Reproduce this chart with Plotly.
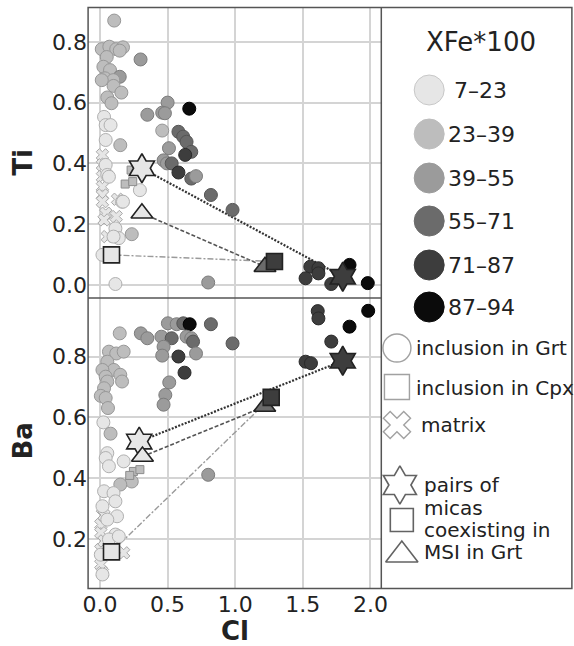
import plotly.graph_objects as go

W, H = 574, 646

# ---------------- data ----------------
CLASS_LABELS = ["7–23", "23–39", "39–55", "55–71", "71–87", "87–94"]
CLASS_FILL = ["#e6e6e6", "#bdbdbd", "#9b9b9b", "#6b6b6b", "#3d3d3d", "#0b0b0b"]
CLASS_EDGE = ["#b0b0b0", "#979797", "#7c7c7c", "#555555", "#2a2a2a", "#000000"]

# Ti panel – inclusions in Grt (circles): Cl, Ti, XFe class
ti_circ_cl = [0.105, 0.013, 0.069, 0.12, 0.17, 0.146, 0.30, 0.05, 0.025, 0.074, 0.146, 0.037, 0.098,
              0.013, 0.10, 0.158, 0.054, 0.085, 0.03, 0.042, 0.078, 0.042, 0.15, 0.50, 0.46, 0.48,
              0.35, 0.66, 0.46, 0.58, 0.615, 0.64, 0.675, 0.51, 0.63, 0.47, 0.495, 0.53, 0.58, 0.675,
              0.71, 0.82, 0.98, 0.80, 1.555, 1.615, 1.52, 1.615, 1.71, 1.845, 1.98, 0.042, 0.054,
              0.066, 0.295, 0.163, 0.114, 0.139, 0.10, 0.235, 0.114, 0.018, 0.17]
ti_circ_ti = [0.87, 0.776, 0.784, 0.776, 0.782, 0.771, 0.742, 0.75, 0.718, 0.707, 0.685, 0.68, 0.674,
              0.674, 0.655, 0.633, 0.617, 0.598, 0.553, 0.526, 0.526, 0.477, 0.46, 0.60, 0.567, 0.565,
              0.56, 0.58, 0.508, 0.504, 0.488, 0.471, 0.438, 0.45, 0.428, 0.41, 0.40, 0.40, 0.37, 0.35,
              0.358, 0.296, 0.247, 0.008, 0.06, 0.055, 0.022, 0.038, 0.003, 0.066, 0.006, 0.395, 0.362,
              0.356, 0.312, 0.274, 0.186, 0.154, 0.159, 0.167, 0.003, 0.099, 0.274]
ti_circ_grp = [1, 1, 1, 1, 1, 1, 2, 1, 1, 1, 2, 1, 1,
               1, 1, 1, 1, 1, 0, 0, 0, 0, 1, 2, 2, 2,
               2, 5, 1, 3, 3, 3, 3, 2, 4, 2, 2, 3, 4, 3,
               2, 3, 3, 2, 4, 4, 4, 4, 4, 5, 5, 0, 0,
               0, 0, 0, 0, 0, 0, 1, 0, 0, 0]

# Ti panel – matrix (crosses)
ti_mtx_cl = [0.018, 0.018, 0.018, 0.018, 0.018, 0.018, 0.042, 0.12, 0.03, 0.13, 0.054]
ti_mtx_ti = [0.428, 0.395, 0.356, 0.323, 0.296, 0.274, 0.236, 0.225, 0.214, 0.282, 0.159]

# Ti panel – inclusions in Cpx (small squares)
ti_cpx_cl = [0.23, 0.186, 0.242]
ti_cpx_ti = [0.378, 0.332, 0.34]

# Ti panel – pairs of micas coexisting in MSI in Grt: [light, dark]
ti_star_cl, ti_star_ti, ti_star_grp = [0.31, 1.795], [0.384, 0.027], [0, 4]
ti_sq_cl, ti_sq_ti, ti_sq_grp = [0.085, 1.29], [0.099, 0.077], [0, 4]
ti_tri_cl, ti_tri_ti, ti_tri_grp = [0.31, 1.22], [0.236, 0.06], [0, 3]

# Ba panel – inclusions in Grt (circles)
ba_circ_cl = [0.502, 0.567, 0.616, 0.663, 0.82, 0.146, 0.302, 0.35, 0.454, 0.53, 0.64, 0.675, 0.688,
              0.47, 0.46, 0.58, 0.71, 0.625, 0.98, 0.512, 0.483, 0.47, 0.80, 1.61, 1.615, 1.983, 1.845,
              1.71, 1.52, 1.56, 0.066, 0.12, 0.175, 0.054, 0.102, 0.018, 0.042, 0.15, 0.163, 0.054,
              0.03, 0.006, 0.042, 0.059, 0.025, 0.078, 0.054, 0.042, 0.066, 0.175, 0.235, 0.15, 0.03,
              0.10, 0.114, 0.018, 0.126, 0.054, 0.114, 0.066, 0.139, 0.018, 0.006]
ba_circ_ba = [0.909, 0.906, 0.909, 0.906, 0.906, 0.876, 0.876, 0.86, 0.865, 0.86, 0.865, 0.86, 0.849,
              0.832, 0.803, 0.80, 0.81, 0.747, 0.843, 0.715, 0.674, 0.642, 0.412, 0.949, 0.925, 0.95, 0.898,
              0.849, 0.783, 0.778, 0.816, 0.81, 0.816, 0.783, 0.756, 0.756, 0.734, 0.74, 0.718, 0.718,
              0.696, 0.671, 0.664, 0.631, 0.584, 0.547, 0.483, 0.467, 0.44, 0.456, 0.39, 0.38, 0.358,
              0.352, 0.325, 0.309, 0.276, 0.265, 0.216, 0.2, 0.21, 0.085, 0.15]
ba_circ_grp = [2, 2, 3, 5, 3, 1, 2, 2, 2, 3, 2, 2, 3,
               2, 2, 4, 2, 4, 3, 2, 2, 2, 2, 4, 4, 5, 5,
               4, 4, 4, 1, 1, 1, 1, 1, 1, 1, 1, 1, 1,
               1, 1, 1, 1, 0, 1, 0, 0, 0, 0, 1, 1, 0,
               0, 0, 0, 0, 0, 0, 0, 0, 0, 0]

# Ba panel – matrix (crosses)
ba_mtx_cl = [0.018, 0.006, 0.006, 0.006, 0.175, 0.006, 0.018, 0.03, 0.03]
ba_mtx_ba = [0.303, 0.249, 0.222, 0.167, 0.156, 0.118, 0.091, 0.195, 0.28]

# Ba panel – inclusions in Cpx (small squares)
ba_cpx_cl = [0.247, 0.295, 0.22]
ba_cpx_ba = [0.423, 0.429, 0.41]

# Ba panel – pairs
ba_star_cl, ba_star_ba, ba_star_grp = [0.29, 1.795], [0.521, 0.786], [0, 4]
ba_sq_cl, ba_sq_ba, ba_sq_grp = [0.085, 1.266], [0.159, 0.666], [0, 4]
ba_tri_cl, ba_tri_ba, ba_tri_grp = [0.314, 1.218], [0.472, 0.636], [0, 3]

X_TICKS = [0.0, 0.5, 1.0, 1.5, 2.0]
TI_TICKS = [0.0, 0.2, 0.4, 0.6, 0.8]
BA_TICKS = [0.2, 0.4, 0.6, 0.8]

# ---------------- layout helpers ----------------
def px(x):
    return x / W


def py(y):
    return 1 - y / H


PLOT_L, PLOT_R = 84, 384
TOP_T, MID, BOT_B = 7.5, 298, 588.5
FRAME = "#555555"
GRID = "#d4d4d4"
FONT = "DejaVu Sans"

fig = go.Figure()


def add_panel(xa, ya, cl, val, grp, mcl, mval, ccl, cval, pairs):
    # connecting lines of mica pairs
    styles = [("2px,1.5px", "#333333", 2.2), ("4px,2px", "#555555", 1.6), ("6px,2px,2px,2px", "#9a9a9a", 1.4)]
    for (pcl, pval, _g, _sym, _sz), (dash, col, w) in zip(pairs, styles):
        fig.add_trace(go.Scatter(x=pcl, y=pval, mode="lines", xaxis=xa, yaxis=ya,
                                 line=dict(color=col, width=w, dash=dash),
                                 showlegend=False, hoverinfo="skip"))
    # matrix crosses
    fig.add_trace(go.Scatter(x=mcl, y=mval, mode="markers", xaxis=xa, yaxis=ya,
                             marker=dict(symbol="x", size=11, color=CLASS_FILL[0],
                                         line=dict(color="#a8a8a8", width=1)),
                             showlegend=False))
    # inclusion in Grt circles
    fig.add_trace(go.Scatter(x=cl, y=val, mode="markers", xaxis=xa, yaxis=ya,
                             marker=dict(symbol="circle", size=13,
                                         color=[CLASS_FILL[g] for g in grp],
                                         line=dict(color=[CLASS_EDGE[g] for g in grp], width=1)),
                             showlegend=False))
    # inclusion in Cpx small squares
    fig.add_trace(go.Scatter(x=ccl, y=cval, mode="markers", xaxis=xa, yaxis=ya,
                             marker=dict(symbol="square", size=8, color=CLASS_FILL[1],
                                         line=dict(color="#8c8c8c", width=1)),
                             showlegend=False))
    # pair markers
    for pcl, pval, g, sym, sz in pairs:
        fig.add_trace(go.Scatter(x=pcl, y=pval, mode="markers", xaxis=xa, yaxis=ya,
                                 marker=dict(symbol=sym, size=sz,
                                             color=[CLASS_FILL[i] for i in g],
                                             line=dict(color="#222222", width=1.6)),
                                 showlegend=False))


add_panel("x2", "y2", ti_circ_cl, ti_circ_ti, ti_circ_grp, ti_mtx_cl, ti_mtx_ti, ti_cpx_cl, ti_cpx_ti,
          [(ti_star_cl, ti_star_ti, ti_star_grp, "hexagram", 22),
           (ti_tri_cl, ti_tri_ti, ti_tri_grp, "triangle-up", 19),
           (ti_sq_cl, ti_sq_ti, ti_sq_grp, "square", 16)])
add_panel("x", "y", ba_circ_cl, ba_circ_ba, ba_circ_grp, ba_mtx_cl, ba_mtx_ba, ba_cpx_cl, ba_cpx_ba,
          [(ba_star_cl, ba_star_ba, ba_star_grp, "hexagram", 22),
           (ba_tri_cl, ba_tri_ba, ba_tri_grp, "triangle-up", 19),
           (ba_sq_cl, ba_sq_ba, ba_sq_grp, "square", 16)])

# ---------------- custom legend (pixel-space axis) ----------------
LEG_CIRCLE_Y = [90, 134, 178, 221, 265, 307]
fig.add_trace(go.Scatter(x=[433] * 6, y=LEG_CIRCLE_Y, mode="markers", xaxis="x3", yaxis="y3",
                         marker=dict(symbol="circle", size=30, color=CLASS_FILL,
                                     line=dict(color=["#c8c8c8"] + CLASS_FILL[1:], width=1)),
                         showlegend=False, hoverinfo="skip"))
fig.add_trace(go.Scatter(x=[400, 400, 400], y=[348, 387, 425], mode="markers", xaxis="x3", yaxis="y3",
                         marker=dict(symbol=["circle", "square", "x"], size=[28, 25, 24], color="white",
                                     line=dict(color="#7a7a7a", width=1.4)),
                         showlegend=False, hoverinfo="skip"))
fig.add_trace(go.Scatter(x=[403, 405, 405], y=[485, 520, 555], mode="markers", xaxis="x3", yaxis="y3",
                         marker=dict(symbol=["hexagram", "square", "triangle-up"], size=[29, 23, 28],
                                     color="white", line=dict(color="#222222", width=1.6)),
                         showlegend=False, hoverinfo="skip"))

annotations = []
annotations.append(dict(x=486, y=42, xref="x3", yref="y3", text="XFe*100", showarrow=False,
                        font=dict(family=FONT, size=26, color="#222")))
for i, (lab, yy) in enumerate(zip(CLASS_LABELS, LEG_CIRCLE_Y)):
    annotations.append(dict(x=456 if i == 0 else 450, y=yy, xref="x3", yref="y3", text=lab,
                            showarrow=False, xanchor="left",
                            font=dict(family=FONT, size=22, color="#222")))
for txt, xx, yy in [("inclusion in Grt", 417, 348), ("inclusion in Cpx", 417, 388), ("matrix", 423, 425),
                    ("pairs of", 426, 485), ("micas", 426, 508), ("coexisting in", 426, 530),
                    ("MSI in Grt", 426, 552)]:
    annotations.append(dict(x=xx, y=yy, xref="x3", yref="y3", text=txt, showarrow=False,
                            xanchor="left", font=dict(family=FONT, size=20, color="#222")))

# axis titles
annotations.append(dict(x=px(17), y=py(162), xref="paper", yref="paper", text="<b>Ti</b>", textangle=-90,
                        xanchor="center", yanchor="middle",
                        showarrow=False, font=dict(family=FONT, size=26, color="#222")))
annotations.append(dict(x=px(17), y=py(441), xref="paper", yref="paper", text="<b>Ba</b>", textangle=-90,
                        xanchor="center", yanchor="middle",
                        showarrow=False, font=dict(family=FONT, size=26, color="#222")))
annotations.append(dict(x=px(234), y=py(631), xref="paper", yref="paper", text="<b>Cl</b>",
                        xanchor="center", yanchor="middle",
                        showarrow=False, font=dict(family=FONT, size=26, color="#222")))

shapes = [
    dict(type="rect", xref="paper", yref="paper", x0=px(PLOT_L), x1=px(W + 5), y0=py(BOT_B), y1=py(TOP_T),
         line=dict(color=FRAME, width=1.5)),
    dict(type="line", xref="paper", yref="paper", x0=px(PLOT_R), x1=px(PLOT_R), y0=py(BOT_B), y1=py(TOP_T),
         line=dict(color=FRAME, width=1.5)),
    dict(type="line", xref="paper", yref="paper", x0=px(PLOT_L), x1=px(PLOT_R), y0=py(MID), y1=py(MID),
         line=dict(color=FRAME, width=1.5)),
]

tickfont = dict(family=FONT, size=22, color="#222")
xdom = [px(PLOT_L), px(PLOT_R)]
xr = [-0.088, 2.08]
fig.update_layout(
    width=W, height=H, margin=dict(l=0, r=0, t=0, b=0),
    paper_bgcolor="white", plot_bgcolor="white", showlegend=False,
    xaxis=dict(domain=xdom, range=xr, tickvals=X_TICKS, ticktext=[f"{v:.1f}" for v in X_TICKS],
               showgrid=True, gridcolor=GRID, gridwidth=1.5, zeroline=False, showline=False,
               tickfont=tickfont, anchor="y", ticks=""),
    xaxis2=dict(domain=xdom, range=xr, tickvals=X_TICKS, showticklabels=False, matches="x",
                showgrid=True, gridcolor=GRID, gridwidth=1.5, zeroline=False, showline=False, anchor="y2"),
    yaxis=dict(domain=[py(BOT_B), py(MID)], range=[0.039, 0.992], tickvals=BA_TICKS,
               ticktext=[f"{v:.1f}" for v in BA_TICKS], showgrid=True, gridcolor=GRID, gridwidth=1.5,
               zeroline=False, showline=False, tickfont=tickfont, anchor="x", ticks=""),
    yaxis2=dict(domain=[py(MID), py(TOP_T)], range=[-0.043, 0.913], tickvals=TI_TICKS,
                ticktext=[f"{v:.1f}" for v in TI_TICKS], showgrid=True, gridcolor=GRID, gridwidth=1.5,
                zeroline=False, showline=False, tickfont=tickfont, anchor="x2", ticks=""),
    xaxis3=dict(domain=[px(PLOT_R), 1], range=[PLOT_R, W], visible=False, anchor="y3"),
    yaxis3=dict(domain=[0, 1], range=[H, 0], visible=False, anchor="x3"),
    annotations=annotations, shapes=shapes,
)

fig.write_html("out.html", config={"displayModeBar": False},
               post_script="document.body.style.margin='0px';")
